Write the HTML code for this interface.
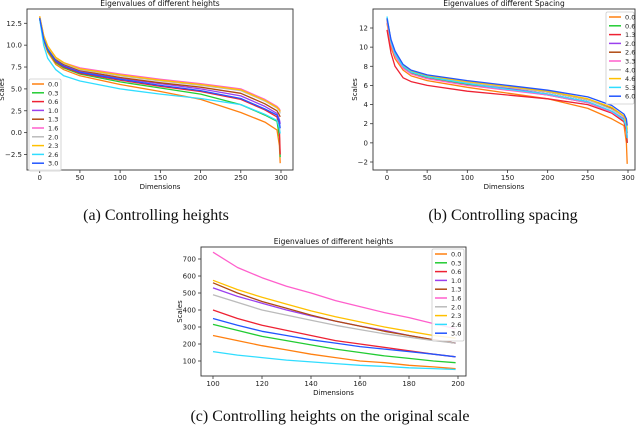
<!DOCTYPE html>
<html><head><meta charset="utf-8">
<style>
body{margin:0;background:#fff;}
svg{display:block;font-family:"DejaVu Sans","Liberation Sans",sans-serif;}
.cap{font-family:"Liberation Serif",serif;font-size:16px;}
</style></head>
<body>
<svg id="fig" width="640" height="442" viewBox="0 0 640 442"></svg>
<script>
const colors = ["#ff8010","#22cc33","#ee2233","#9a40ee","#b04a12","#ff5fcc","#bbbbbb","#ffc000","#30ddff","#2255ff"];
// Panel (a): heights
const aLabels = ["0.0","0.3","0.6","1.0","1.3","1.6","2.0","2.3","2.6","3.0"];
const aX = [0,5,10,20,30,50,100,150,200,250,280,295,298,299];
const aSeries = [
 [13,10.5,9.2,7.8,7.2,6.5,5.5,4.7,3.8,2.3,1.2,0.3,-1.5,-3.5],
 [13,10.6,9.4,8.0,7.4,6.7,5.8,5.1,4.4,3.2,2.0,1.3,-0.5,-2.8],
 [13.1,10.7,9.5,8.1,7.5,6.8,6.0,5.3,4.7,3.8,2.6,1.8,0.5,-2.5],
 [13.1,10.8,9.6,8.3,7.7,7.0,6.2,5.6,5.0,4.2,3.0,2.2,1.5,1.0],
 [13.2,10.9,9.7,8.4,7.8,7.1,6.3,5.7,5.2,4.5,3.3,2.5,2.0,1.8],
 [13.3,11.1,9.9,8.6,8.0,7.4,6.7,6.1,5.6,5.0,3.8,3.0,2.7,2.5],
 [13.2,11.0,9.8,8.5,7.9,7.2,6.5,5.9,5.4,4.8,3.6,2.8,2.5,2.2],
 [13.3,11.1,9.9,8.6,8.0,7.3,6.6,6.0,5.5,4.9,3.7,2.9,2.6,2.4],
 [13,10.0,8.5,7.2,6.5,5.9,5.0,4.4,3.9,3.2,2.1,1.4,0.5,-0.1],
 [13.1,10.7,9.5,8.2,7.6,6.9,6.1,5.4,4.8,3.9,2.7,2.0,1.2,0.5]
];
const aXTicks = [0,50,100,150,200,250,300];
const aYTicks = [-2.5,0,2.5,5,7.5,10,12.5];
const aYTickLabels = ["\u22122.5","0.0","2.5","5.0","7.5","10.0","12.5"];
// Panel (b): spacing
const bLabels = ["0.0","0.6","1.3","2.0","2.6","3.3","4.0","4.6","5.3","6.0"];
const bX = [0,5,10,20,30,50,100,150,200,250,280,295,298,299];
const bSeries = [
 [12.5,10,8.8,7.6,7.0,6.5,5.8,5.2,4.6,3.6,2.5,1.8,0,-2.2],
 [12.8,10.4,9.2,7.9,7.3,6.8,6.1,5.6,5.0,4.2,3.2,2.4,1.5,0],
 [11.8,9.4,8.0,6.8,6.4,6.0,5.4,5.0,4.6,4.0,3.1,2.2,1.2,0],
 [12.9,10.5,9.3,8.0,7.4,6.9,6.2,5.7,5.1,4.3,3.3,2.5,1.6,0.5],
 [13,10.6,9.4,8.1,7.5,7.0,6.4,5.8,5.3,4.5,3.6,2.7,2.0,1.0],
 [12.7,10.3,9.1,7.8,7.2,6.7,6.0,5.5,5.0,4.2,3.2,2.4,1.6,0.6],
 [12.9,10.5,9.3,8.0,7.4,6.9,6.3,5.8,5.3,4.5,3.5,2.7,2.0,1.2],
 [13,10.6,9.4,8.1,7.5,7.0,6.4,5.9,5.4,4.6,3.7,2.8,2.2,1.4],
 [13.2,10.6,9.3,8.0,7.4,6.9,6.2,5.6,5.1,4.3,3.3,2.4,1.6,0.5],
 [13,10.8,9.6,8.2,7.6,7.1,6.5,6.0,5.5,4.8,3.9,3.0,2.5,1.8]
];
const bXTicks = [0,50,100,150,200,250,300];
const bYTicks = [-2,0,2,4,6,8,10,12];
const bYTickLabels = ["\u22122","0","2","4","6","8","10","12"];
// Panel (c): original scale
const cLabels = aLabels;
const cX = [100,110,120,130,140,150,160,170,180,190,199];
const cSeries = [
 [250,220,190,165,140,120,100,90,75,65,55],
 [315,280,245,220,195,170,150,130,115,100,90],
 [400,350,310,280,250,220,200,180,160,140,125],
 [530,480,440,400,365,335,305,280,250,225,205],
 [560,500,450,410,370,335,305,275,250,225,205],
 [740,650,590,540,500,455,420,385,355,320,290],
 [490,445,400,370,340,310,285,260,240,220,205],
 [575,520,475,435,395,360,330,300,275,250,235],
 [155,135,120,105,95,85,75,68,60,55,50],
 [350,310,275,250,225,205,185,170,155,140,125]
];
const cXTicks = [100,120,140,160,180,200];
const cYTicks = [100,200,300,400,500,600,700];
const cYTickLabels = ["100","200","300","400","500","600","700"];

const NS = "http://www.w3.org/2000/svg";
const svg = document.getElementById("fig");
function mk(tag, attrs, parent, text){
  const e = document.createElementNS(NS, tag);
  for (const k in attrs) e.setAttribute(k, attrs[k]);
  if (text !== undefined) e.textContent = text;
  (parent||svg).appendChild(e);
  return e;
}
function panel(cfg){
  const g = mk("g", {});
  
  
  const sx = v => cfg.px0 + (v - cfg.x0) / (cfg.x1 - cfg.x0) * (cfg.px1 - cfg.px0);
  const sy = v => cfg.py0 + (v - cfg.y0) / (cfg.y1 - cfg.y0) * (cfg.py1 - cfg.py0);
  const lines = mk("g", {}, g);
  
  
  cfg.series.forEach((s, i) => {
    const pts = s.map((v, j) => sx(cfg.xs[j]).toFixed(1) + "," + sy(v).toFixed(1)).join(" ");
    const pl = mk("polyline", {points: pts, fill: "none", stroke: colors[i], "stroke-width": 1.3, "stroke-linejoin": "round"}, lines);
    
    
  });
  const box = mk("rect", {x: cfg.L, y: cfg.T, width: cfg.R - cfg.L, height: cfg.B - cfg.T, fill: "none", stroke: "#333", "stroke-width": 0.9}, g);
  
  
  cfg.xTicks.forEach(t => {
    const x = sx(t);
    mk("line", {x1: x, x2: x, y1: cfg.B, y2: cfg.B + 3, stroke: "#333", "stroke-width": 0.8}, g);
    const tx = mk("text", {x: x, y: cfg.B + 10, "font-size": 7, "text-anchor": "middle", fill: "#222"}, g, String(t));
    
    
  });
  cfg.yTicks.forEach((t, i) => {
    const y = sy(t);
    mk("line", {x1: cfg.L - 3, x2: cfg.L, y1: y, y2: y, stroke: "#333", "stroke-width": 0.8}, g);
    const tx = mk("text", {x: cfg.L - 5, y: y + 2.5, "font-size": 7, "text-anchor": "end", fill: "#222"}, g, cfg.yLabels[i]);
    
    
  });
  const ti = mk("text", {x: (cfg.L + cfg.R) / 2, y: cfg.T - 3, "font-size": 7.5, "text-anchor": "middle", fill: "#111"}, g, cfg.title);
  
  
  const xl = mk("text", {x: (cfg.L + cfg.R) / 2, y: cfg.B + 19, "font-size": 7, "text-anchor": "middle", fill: "#111"}, g, "Dimensions");
  
  
  const yx = cfg.ylx, yy = (cfg.T + cfg.B) / 2;
  const yl = mk("text", {x: yx, y: yy, "font-size": 7, "text-anchor": "middle", fill: "#111", transform: "rotate(-90 " + yx + " " + yy + ")"}, g, "Scales");
  
  
  const lg = mk("g", {}, g);
  
  
  const lh = cfg.labels.length * cfg.step + 4;
  mk("rect", {x: cfg.lx, y: cfg.ly, width: cfg.lw, height: lh, fill: "#fff", "fill-opacity": 0.85, stroke: "#ccc", "stroke-width": 0.8, rx: 1.5}, lg);
  cfg.labels.forEach((lab, i) => {
    const y = cfg.ly + 5 + i * cfg.step;
    const ent = mk("g", {}, lg);
    
    
    mk("line", {x1: cfg.lx + 3, x2: cfg.lx + 15, y1: y, y2: y, stroke: colors[i], "stroke-width": 1.5}, ent);
    mk("text", {x: cfg.lx + 19, y: y + 2.5, "font-size": 6.5, fill: "#222"}, ent, lab);
  });
  const cp = mk("text", {x: cfg.capx, y: cfg.capy, "text-anchor": "middle", "class": "cap", fill: "#111"}, g, cfg.caption);
  
  
}
panel({name: "panel-a-heights", title: "Eigenvalues of different heights", caption: "(a) Controlling heights",
  xs: aX, series: aSeries, labels: aLabels, xTicks: aXTicks, yTicks: aYTicks, yLabels: aYTickLabels,
  L: 27, R: 293, T: 9, B: 170, x0: 0, x1: 300, px0: 39.7, px1: 281, y0: 12.5, y1: -2.5, py0: 23.3, py1: 154.5,
  ylx: 4, lx: 29, ly: 79, lw: 32, step: 8.8, capx: 156, capy: 220});
panel({name: "panel-b-spacing", title: "Eigenvalues of different Spacing", caption: "(b) Controlling spacing",
  xs: bX, series: bSeries, labels: bLabels, xTicks: bXTicks, yTicks: bYTicks, yLabels: bYTickLabels,
  L: 373, R: 635, T: 9, B: 170, x0: 0, x1: 300, px0: 387, px1: 628, y0: 12, y1: -2, py0: 28, py1: 162,
  ylx: 357, lx: 606, ly: 12, lw: 28, step: 8.8, capx: 503, capy: 220});
panel({name: "panel-c-original-scale", title: "Eigenvalues of different heights", caption: "(c) Controlling heights on the original scale",
  xs: cX, series: cSeries, labels: cLabels, xTicks: cXTicks, yTicks: cYTicks, yLabels: cYTickLabels,
  L: 201, R: 466, T: 247, B: 376, x0: 100, x1: 200, px0: 213, px1: 458, y0: 700, y1: 100, py0: 259, py1: 361,
  ylx: 182, lx: 432, ly: 249, lw: 32, step: 8.8, capx: 330, capy: 421});
</script>
</body></html>
